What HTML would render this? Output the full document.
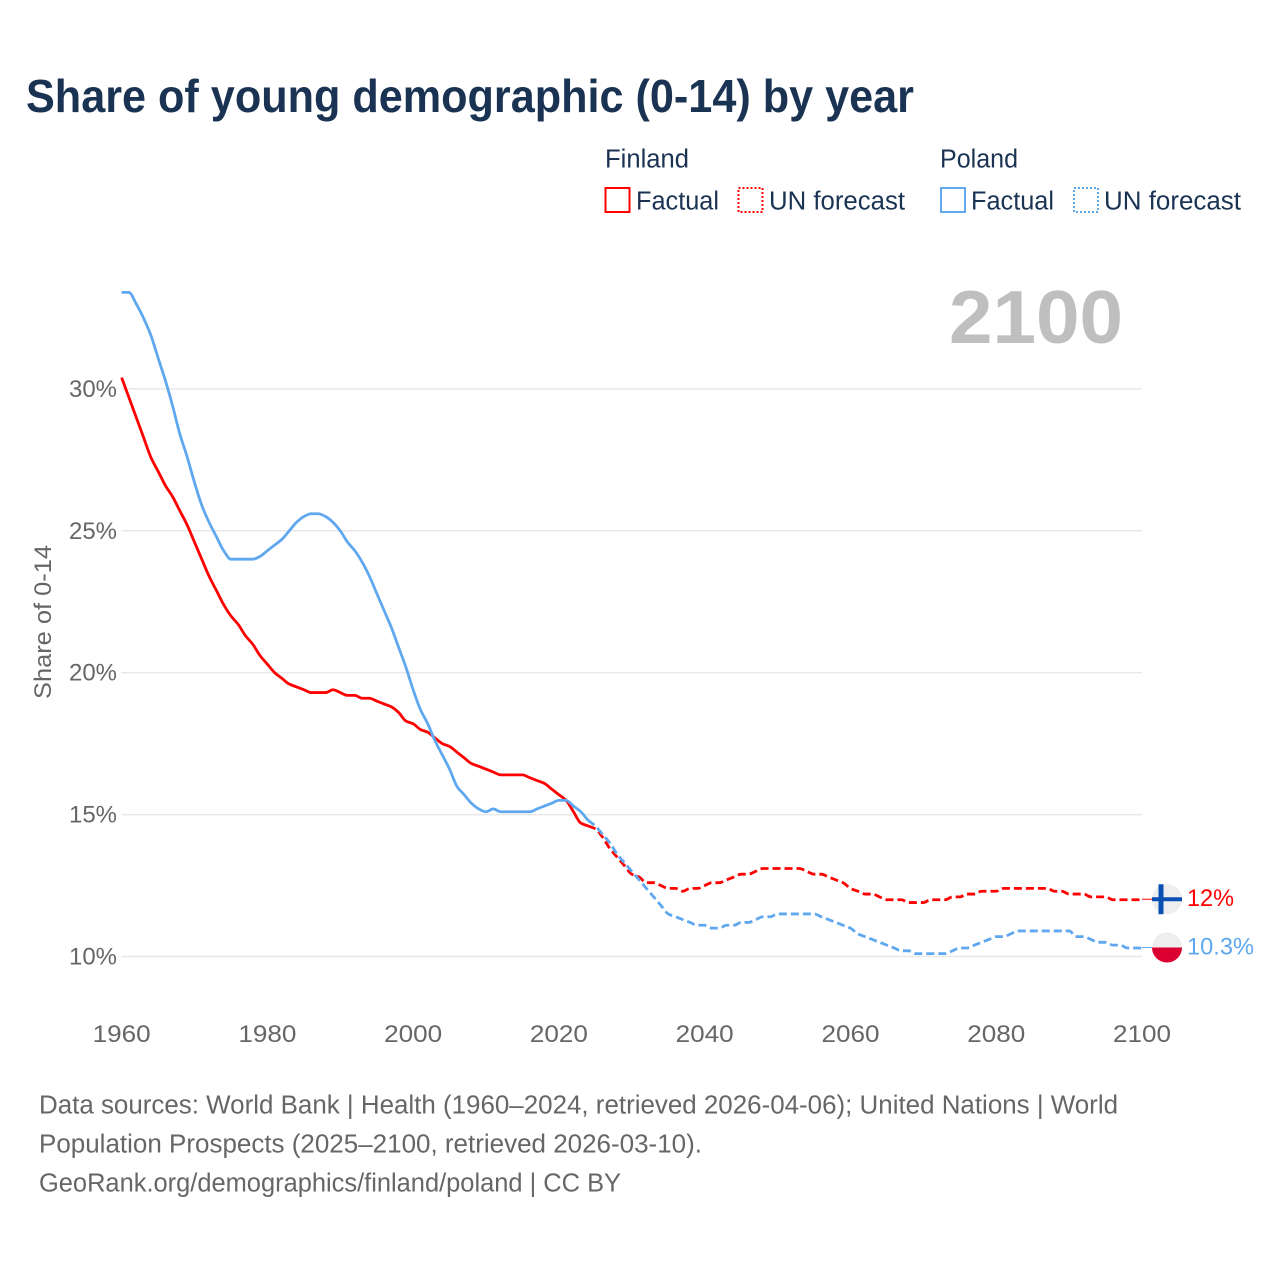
<!DOCTYPE html>
<html lang="en">
<head>
<meta charset="utf-8">
<title>Share of young demographic (0-14) by year</title>
<style>
  html, body { margin: 0; padding: 0; background: #fff; width: 1280px; height: 1280px; overflow: hidden; }
  svg { display: block; }
  text { font-family: "Liberation Sans", sans-serif; }
</style>
</head>
<body>
<svg id="chart" width="1280" height="1280" viewBox="0 0 1280 1280" xmlns="http://www.w3.org/2000/svg">
  <rect width="1280" height="1280" fill="#ffffff"/>
  <text x="26" y="112" font-size="46" font-weight="700" fill="#1a3353" textLength="888" lengthAdjust="spacingAndGlyphs">Share of young demographic (0-14) by year</text>

  <g font-size="25.5" fill="#1a3353">
    <text x="605" y="167.5" textLength="84" lengthAdjust="spacingAndGlyphs">Finland</text>
    <rect x="605.5" y="188" width="24" height="24" fill="none" stroke="#ff0000" stroke-width="2"/>
    <text x="636" y="209.5" textLength="83" lengthAdjust="spacingAndGlyphs">Factual</text>
    <rect x="738.5" y="188" width="24" height="24" fill="none" stroke="#ff0000" stroke-width="2" stroke-dasharray="2 2"/>
    <text x="769" y="209.5" textLength="136" lengthAdjust="spacingAndGlyphs">UN forecast</text>

    <text x="940" y="167.5" textLength="78" lengthAdjust="spacingAndGlyphs">Poland</text>
    <rect x="941" y="188" width="24" height="24" fill="none" stroke="#5fa8ef" stroke-width="2"/>
    <text x="971" y="209.5" textLength="83" lengthAdjust="spacingAndGlyphs">Factual</text>
    <rect x="1074" y="188" width="24" height="24" fill="none" stroke="#5fa8ef" stroke-width="2" stroke-dasharray="2 2"/>
    <text x="1104" y="209.5" textLength="137" lengthAdjust="spacingAndGlyphs">UN forecast</text>
  </g>

  <text id="year-label" x="1123" y="343" text-anchor="end" font-size="75" font-weight="700" fill="#bfbfbf" textLength="174" lengthAdjust="spacingAndGlyphs"></text>

  <g id="grid"></g>
  <g id="y-axis"></g>
  <g id="x-axis"></g>
  <text transform="translate(51,699) rotate(-90)" font-size="24" fill="#666666" textLength="154" lengthAdjust="spacingAndGlyphs">Share of 0-14</text>

  <g id="series"></g>
  <g id="end-markers"></g>

  <g font-size="25.5" fill="#666666">
    <text x="39" y="1113.5" textLength="1079" lengthAdjust="spacingAndGlyphs">Data sources: World Bank | Health (1960–2024, retrieved 2026-04-06); United Nations | World</text>
    <text x="39" y="1152.5" textLength="663" lengthAdjust="spacingAndGlyphs">Population Prospects (2025–2100, retrieved 2026-03-10).</text>
    <text x="39" y="1191.5" textLength="582" lengthAdjust="spacingAndGlyphs">GeoRank.org/demographics/finland/poland | CC BY</text>
  </g>
</svg>
<script>
const factualStartYear = 1960;
const forecastStartYear = 2024;
const xTickYears = [1960, 1980, 2000, 2020, 2040, 2060, 2080, 2100];
const yTickValues = [10, 15, 20, 25, 30];

const finlandFactual = [
  30.4,29.7,29.0,28.3,27.6,27.1,26.6,26.2,25.7,25.2,
  24.6,24.0,23.4,22.9,22.4,22.0,21.7,21.3,21.0,20.6,
  20.3,20.0,19.8,19.6,19.5,19.4,19.3,19.3,19.3,19.4,
  19.3,19.2,19.2,19.1,19.1,19.0,18.9,18.8,18.6,18.3,
  18.2,18.0,17.9,17.7,17.5,17.4,17.2,17.0,16.8,16.7,
  16.6,16.5,16.4,16.4,16.4,16.4,16.3,16.2,16.1,15.9,
  15.7,15.5,15.1,14.7,14.6
];
const finlandForecast = [
  14.6,14.5,14.2,13.8,13.5,13.2,
  12.9,12.8,12.6,12.6,12.5,12.4,12.4,12.3,12.4,12.4,
  12.5,12.6,12.6,12.7,12.8,12.9,12.9,13.0,13.1,13.1,
  13.1,13.1,13.1,13.1,13.0,12.9,12.9,12.8,12.7,12.6,
  12.4,12.3,12.2,12.2,12.1,12.0,12.0,12.0,11.9,11.9,
  11.9,12.0,12.0,12.0,12.1,12.1,12.2,12.2,12.3,12.3,
  12.3,12.4,12.4,12.4,12.4,12.4,12.4,12.4,12.3,12.3,
  12.2,12.2,12.2,12.1,12.1,12.1,12.0,12.0,12.0,12.0,
  12.0
];
const polandFactual = [
  33.4,33.4,33.0,32.5,31.9,31.1,30.3,29.4,28.4,27.6,
  26.7,25.9,25.3,24.8,24.3,24.0,24.0,24.0,24.0,24.1,
  24.3,24.5,24.7,25.0,25.3,25.5,25.6,25.6,25.5,25.3,
  25.0,24.6,24.3,23.9,23.4,22.8,22.2,21.6,20.9,20.2,
  19.4,18.7,18.2,17.6,17.1,16.6,16.0,15.7,15.4,15.2,
  15.1,15.2,15.1,15.1,15.1,15.1,15.1,15.2,15.3,15.4,
  15.5,15.5,15.3,15.1,14.8
];
const polandForecast = [
  14.8,14.6,14.3,14.0,13.6,13.3,
  13.0,12.7,12.4,12.1,11.8,11.5,11.4,11.3,11.2,11.1,
  11.1,11.0,11.0,11.1,11.1,11.2,11.2,11.3,11.4,11.4,
  11.5,11.5,11.5,11.5,11.5,11.5,11.4,11.3,11.2,11.1,
  11.0,10.8,10.7,10.6,10.5,10.4,10.3,10.2,10.2,10.1,
  10.1,10.1,10.1,10.1,10.2,10.3,10.3,10.4,10.5,10.6,
  10.7,10.7,10.8,10.9,10.9,10.9,10.9,10.9,10.9,10.9,
  10.9,10.7,10.7,10.6,10.5,10.5,10.4,10.4,10.3,10.3,
  10.3
];

const NS = 'http://www.w3.org/2000/svg';
const RED = '#ff0000';
const BLUE = '#5fa8ef';
const xScale = year => 121.6 + (year - 1960) * (1142 - 121.6) / 140;
const yScale = value => 956.5 - (value - 10) * 28.38;

function make(tag, parent, attrs, text) {
  const el = document.createElementNS(NS, tag);
  Object.keys(attrs).forEach(k => el.setAttribute(k, attrs[k]));
  if (text !== undefined) el.textContent = text;
  parent.appendChild(el);
  return el;
}
/* Monotone cubic path through the yearly values */
function linePath(values, startYear) {
  const xs = values.map((v, i) => xScale(startYear + i));
  const ys = values.map(v => yScale(v));
  const n = xs.length;
  const slopes = [];
  for (let i = 0; i < n - 1; i++) slopes.push((ys[i + 1] - ys[i]) / (xs[i + 1] - xs[i]));
  const tangents = [slopes[0]];
  for (let i = 1; i < n - 1; i++) {
    tangents.push(slopes[i - 1] * slopes[i] <= 0 ? 0 : 2 * slopes[i - 1] * slopes[i] / (slopes[i - 1] + slopes[i]));
  }
  tangents.push(slopes[n - 2]);
  let d = 'M' + xs[0].toFixed(2) + ' ' + ys[0].toFixed(2);
  for (let i = 0; i < n - 1; i++) {
    const h = (xs[i + 1] - xs[i]) / 3;
    d += ' C' + (xs[i] + h).toFixed(2) + ' ' + (ys[i] + tangents[i] * h).toFixed(2) + ' ' +
      (xs[i + 1] - h).toFixed(2) + ' ' + (ys[i + 1] - tangents[i + 1] * h).toFixed(2) + ' ' +
      xs[i + 1].toFixed(2) + ' ' + ys[i + 1].toFixed(2);
  }
  return d;
}

const gridGroup = document.getElementById('grid');
const yAxisGroup = document.getElementById('y-axis');
const xAxisGroup = document.getElementById('x-axis');
const seriesGroup = document.getElementById('series');
const markerGroup = document.getElementById('end-markers');

yTickValues.forEach(v => {
  const line = make('line', gridGroup, { x1: xScale(1960), x2: xScale(2100), y1: yScale(v), y2: yScale(v), stroke: '#e8e8e8', 'stroke-width': 1.5 });
  
  
  const label = v + '%';
  const tick = make('text', yAxisGroup, { x: 117, y: yScale(v) + 8, 'text-anchor': 'end', 'font-size': 24, fill: '#666666', textLength: label.length * 16, lengthAdjust: 'spacingAndGlyphs' }, label);
  
  
});

xTickYears.forEach(year => {
  const tick = make('text', xAxisGroup, { x: xScale(year), y: 1042, 'text-anchor': 'middle', 'font-size': 24, fill: '#666666', textLength: 58, lengthAdjust: 'spacingAndGlyphs' }, String(year));
  
  
});

const redForecastLine = make('path', seriesGroup, { d: linePath(finlandForecast, forecastStartYear), fill: 'none', stroke: RED, 'stroke-width': 2.8, 'stroke-dasharray': '8 4', 'stroke-linejoin': 'round' });


const redFactualLine = make('path', seriesGroup, { d: linePath(finlandFactual, factualStartYear), fill: 'none', stroke: RED, 'stroke-width': 2.8, 'stroke-linejoin': 'round' });


const blueForecastLine = make('path', seriesGroup, { d: linePath(polandForecast, forecastStartYear), fill: 'none', stroke: BLUE, 'stroke-width': 2.8, 'stroke-dasharray': '8 4', 'stroke-linejoin': 'round' });


const blueFactualLine = make('path', seriesGroup, { d: linePath(polandFactual, factualStartYear), fill: 'none', stroke: BLUE, 'stroke-width': 2.8, 'stroke-linejoin': 'round' });



const lastYear = forecastStartYear + finlandForecast.length - 1;
document.getElementById('year-label').textContent = String(lastYear);

const finEnd = finlandForecast[finlandForecast.length - 1];
const polEnd = polandForecast[polandForecast.length - 1];
const finY = yScale(finEnd) - 0.5;
const polY = yScale(polEnd) - 0.5;
const markerX = 1167;
const radius = 15;

const finConnector = make('line', markerGroup, { x1: xScale(lastYear), x2: markerX - radius, y1: finY, y2: finY, stroke: RED, 'stroke-width': 1 });


const polConnector = make('line', markerGroup, { x1: xScale(lastYear), x2: markerX - radius, y1: polY, y2: polY, stroke: BLUE, 'stroke-width': 1 });



const finFlag = make('circle', markerGroup, { cx: markerX, cy: finY, r: radius, fill: '#eeeeee' });


const finCrossH = make('rect', markerGroup, { x: markerX - radius, y: finY - 2, width: radius * 2, height: 4, fill: '#0a50b4' });


const finCrossV = make('rect', markerGroup, { x: markerX - 8.5, y: finY - radius, width: 5, height: radius * 2, fill: '#0a50b4' });



const polFlag = make('circle', markerGroup, { cx: markerX, cy: polY, r: radius, fill: '#eeeeee' });


const polHalf = make('path', markerGroup, { d: 'M' + (markerX - radius) + ' ' + polY + ' A' + radius + ' ' + radius + ' 0 0 0 ' + (markerX + radius) + ' ' + polY + ' Z', fill: '#dc0030' });



const finLabel = make('text', markerGroup, { x: 1187, y: finY + 7, 'font-size': 24.5, fill: RED, textLength: 47, lengthAdjust: 'spacingAndGlyphs' }, finEnd + '%');


const polLabel = make('text', markerGroup, { x: 1187, y: polY + 7, 'font-size': 24.5, fill: BLUE, textLength: 67, lengthAdjust: 'spacingAndGlyphs' }, polEnd + '%');


</script>
</body>
</html>
